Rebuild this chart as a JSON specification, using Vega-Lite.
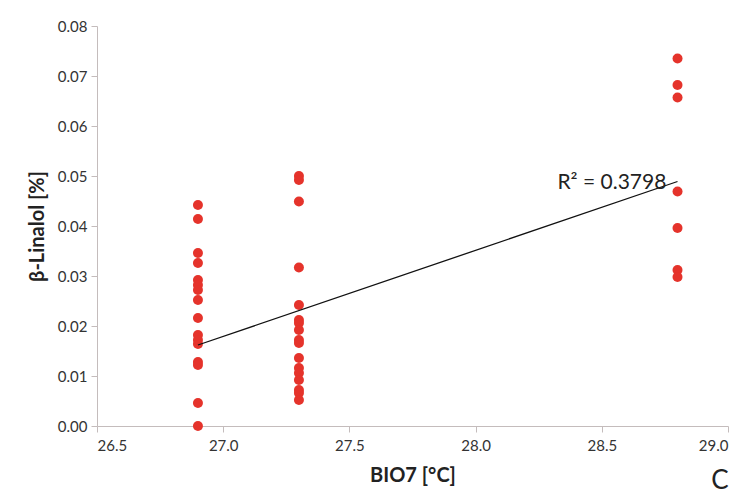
{
  "$schema": "https://vega.github.io/schema/vega-lite/v6.json",
  "width": 631,
  "height": 400,
  "autosize": {"type": "none"},
  "padding": {"left": 97, "top": 26, "right": 21, "bottom": 69},
  "background": "white",
  "config": {
    "view": {"stroke": null},
    "font": "Lato",
    "axis": {
      "grid": false,
      "domainColor": "#c4bcbc",
      "tickColor": "#c4bcbc",
      "tickSize": 6,
      "labelColor": "#333333",
      "labelFont": "Lato",
      "labelFontSize": 15,
      "titleFont": "Lato",
      "titleFontSize": 20,
      "titleFontWeight": "bold",
      "titleColor": "#222222"
    }
  },
  "title": {
    "text": "C",
    "orient": "bottom",
    "anchor": "end",
    "fontSize": 26,
    "fontWeight": "normal",
    "font": "Lato",
    "color": "#222222",
    "offset": -17
  },
  "datasets": {
    "pts": [
      {"bio7": 26.9, "linalol": 0.0442},
      {"bio7": 26.9, "linalol": 0.0414},
      {"bio7": 26.9, "linalol": 0.0346},
      {"bio7": 26.9, "linalol": 0.0326},
      {"bio7": 26.9, "linalol": 0.0292},
      {"bio7": 26.9, "linalol": 0.0282},
      {"bio7": 26.9, "linalol": 0.0272},
      {"bio7": 26.9, "linalol": 0.0252},
      {"bio7": 26.9, "linalol": 0.0216},
      {"bio7": 26.9, "linalol": 0.0182},
      {"bio7": 26.9, "linalol": 0.0172},
      {"bio7": 26.9, "linalol": 0.0164},
      {"bio7": 26.9, "linalol": 0.0128},
      {"bio7": 26.9, "linalol": 0.0122},
      {"bio7": 26.9, "linalol": 0.0046},
      {"bio7": 26.9, "linalol": 0.0},
      {"bio7": 27.3, "linalol": 0.0500},
      {"bio7": 27.3, "linalol": 0.0492},
      {"bio7": 27.3, "linalol": 0.0449},
      {"bio7": 27.3, "linalol": 0.0317},
      {"bio7": 27.3, "linalol": 0.0242},
      {"bio7": 27.3, "linalol": 0.0212},
      {"bio7": 27.3, "linalol": 0.0206},
      {"bio7": 27.3, "linalol": 0.0192},
      {"bio7": 27.3, "linalol": 0.0172},
      {"bio7": 27.3, "linalol": 0.0166},
      {"bio7": 27.3, "linalol": 0.0136},
      {"bio7": 27.3, "linalol": 0.0116},
      {"bio7": 27.3, "linalol": 0.0106},
      {"bio7": 27.3, "linalol": 0.0092},
      {"bio7": 27.3, "linalol": 0.0072},
      {"bio7": 27.3, "linalol": 0.0066},
      {"bio7": 27.3, "linalol": 0.0052},
      {"bio7": 28.8, "linalol": 0.0735},
      {"bio7": 28.8, "linalol": 0.0682},
      {"bio7": 28.8, "linalol": 0.0657},
      {"bio7": 28.8, "linalol": 0.0469},
      {"bio7": 28.8, "linalol": 0.0396},
      {"bio7": 28.8, "linalol": 0.0312},
      {"bio7": 28.8, "linalol": 0.0298}
    ],
    "fit": [
      {"bio7": 26.9, "linalol": 0.0162},
      {"bio7": 28.8, "linalol": 0.0489}
    ],
    "ann": [
      {"bio7": 28.54, "linalol": 0.0486, "label": "R² = 0.3798"}
    ]
  },
  "layer": [
    {
      "data": {"name": "pts"},
      "mark": {"type": "circle", "size": 100, "opacity": 1, "color": "#e5332b"},
      "encoding": {
        "x": {
          "field": "bio7", "type": "quantitative",
          "scale": {"domain": [26.5, 29.0], "nice": false, "zero": false},
          "axis": {"values": [26.5, 27.0, 27.5, 28.0, 28.5, 29.0], "format": ".1f", "title": "BIO7 [°C]", "titlePadding": 12, "labelPadding": 6}
        },
        "y": {
          "field": "linalol", "type": "quantitative",
          "scale": {"domain": [0, 0.08], "nice": false},
          "axis": {"values": [0, 0.01, 0.02, 0.03, 0.04, 0.05, 0.06, 0.07, 0.08], "format": ".2f", "title": "β-Linalol [%]", "titlePadding": 10, "labelPadding": 4}
        }
      }
    },
    {
      "data": {"name": "fit"},
      "mark": {"type": "line", "color": "#111111", "strokeWidth": 1.3},
      "encoding": {
        "x": {"field": "bio7", "type": "quantitative"},
        "y": {"field": "linalol", "type": "quantitative"}
      }
    },
    {
      "data": {"name": "ann"},
      "mark": {"type": "text", "fontSize": 21, "font": "Lato", "color": "#222222", "align": "center", "baseline": "middle"},
      "encoding": {
        "x": {"field": "bio7", "type": "quantitative"},
        "y": {"field": "linalol", "type": "quantitative"},
        "text": {"field": "label"}
      }
    }
  ]
}
